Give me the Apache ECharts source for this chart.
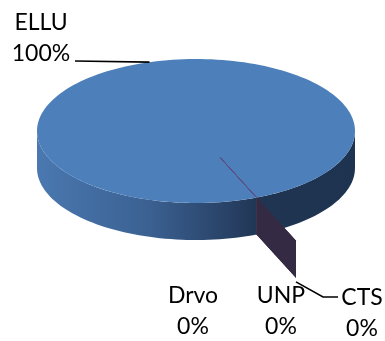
<!DOCTYPE html>
<html>
<head>
<meta charset="utf-8">
<script src="https://cdn.jsdelivr.net/npm/echarts/dist/echarts.min.js"></script>
<style>
  html, body { margin: 0; padding: 0; background: #ffffff; }
  #chart { width: 385px; height: 341px; }
</style>
</head>
<body>
<div id="chart"></div>
<script>
// Share of each source (percent)
const categories = ['ELLU', 'Drvo', 'UNP', 'CTS'];
const shares = [100, 0, 0, 0];

// Geometry of the tilted disc (screen pixels / degrees, clockwise from +x)
const disc = { cx: 196, cy: 131, rx: 159, ry: 72, depth: 37, startAngle: 67.6, hub: 0.4, explode: 0.65 };

// Label block centres and leader-line routes
const labelAnchors = [[41, 38], [193, 311], [281, 311], [362, 313]];
const leaders = [
  { from: [75, 61], toAngle: 253 },
  null,
  null,
  { from: [338, 297], elbow: [323, 297], toFace: true }
];

const total = shares.reduce((a, b) => a + b, 0);
const starts = [];
shares.reduce((acc, v) => { starts.push(acc); return acc + v; }, 0);

const rad = d => d * Math.PI / 180;
function pt(angle, r = 1, dy = 0) {
  return [disc.cx + r * disc.rx * Math.cos(rad(angle)), disc.cy + r * disc.ry * Math.sin(rad(angle)) + dy];
}
function arc(a0, a1, r = 1, dy = 0) {
  const pts = [];
  const n = Math.max(2, Math.ceil(Math.abs(a1 - a0) / 2));
  for (let k = 0; k <= n; k++) pts.push(pt(a0 + (a1 - a0) * k / n, r, dy));
  return pts;
}

const wallFill = new echarts.graphic.LinearGradient(disc.cx - disc.rx, 0, disc.cx + disc.rx, 0, [
  { offset: 0, color: '#4a78b0' },
  { offset: 0.35, color: '#3b6192' },
  { offset: 0.62, color: '#273f63' },
  { offset: 0.70, color: '#1f3552' },
  { offset: 1, color: '#1e3350' }
], true);

const textStyle = { font: '23px Lato', fill: '#000000', align: 'center', verticalAlign: 'middle', lineHeight: 31 };

function renderItem(params, api) {
  const i = params.dataIndex;
  const value = shares[i];
  const s = disc.startAngle + starts[i] / total * 360;
  const e = s + value / total * 360;
  const children = [];

  if (value > 0) {
    // front wall: visible between 0 and 180 degrees
    [[0, 180], [360, 540]].forEach(([w0, w1]) => {
      const a0 = Math.max(s, w0), a1 = Math.min(e, w1);
      if (a1 > a0) {
        const pts = arc(a0, a1).concat(arc(a1, a0, 1, disc.depth));
        children.push({ type: 'polygon', shape: { points: pts }, style: { fill: wallFill } });
      }
    });
    // top face
    const top = [[disc.cx, disc.cy]].concat(arc(s, e));
    children.push({ type: 'polygon', shape: { points: top }, style: { fill: '#4d80bb' } });
  } else {
    // zero-width slice: radial edge on top and the pulled-out cut face
    const p = pt(s, 1), q = pt(s, 1 + disc.explode);
    children.push({
      type: 'polygon',
      shape: { points: [p, q, [q[0], q[1] + disc.depth], [p[0], p[1] + disc.depth]] },
      style: { fill: '#352a43' }
    });
    children.push({
      type: 'polyline',
      shape: { points: [pt(s, disc.hub), p] },
      style: { stroke: '#5c4a80', lineWidth: 1, fill: null }
    });
  }

  // label
  const pct = Math.round(value / total * 100) + '%';
  const [lx, ly] = labelAnchors[i];
  children.push({ type: 'text', style: Object.assign({ text: categories[i] + '\n' + pct, x: lx, y: ly }, textStyle) });

  // leader line
  const ld = leaders[i];
  if (ld) {
    let end;
    if (ld.toFace) {
      const q = pt(s, 1 + disc.explode);
      end = [q[0], q[1] + disc.depth + 4];
    } else {
      end = pt(ld.toAngle);
    }
    const pts = ld.elbow ? [ld.from, ld.elbow, end] : [ld.from, end];
    children.push({ type: 'polyline', shape: { points: pts }, style: { stroke: '#000000', lineWidth: 1.6, fill: null } });
  }

  return { type: 'group', children };
}

const chart = echarts.init(document.getElementById('chart'), null, { renderer: 'canvas' });
chart.setOption({
  animation: false,
  backgroundColor: '#ffffff',
  series: [{
    type: 'custom',
    coordinateSystem: 'none',
    renderItem,
    data: categories.map((name, i) => ({ name, value: shares[i] }))
  }]
});
</script>
</body>
</html>
